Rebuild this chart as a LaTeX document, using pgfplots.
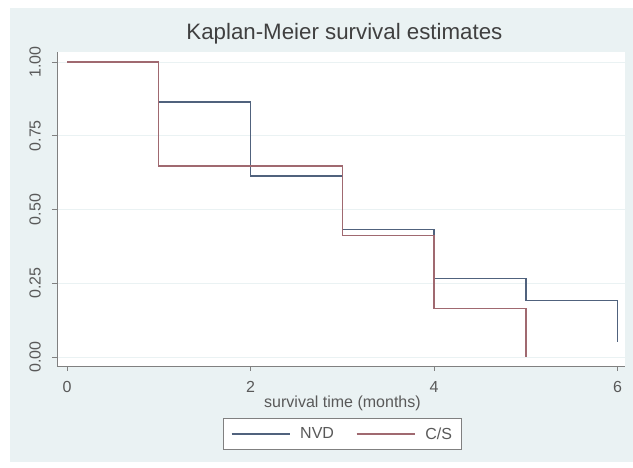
\documentclass[border=0pt]{standalone}
\usepackage{pgfplots}
\pgfplotsset{compat=1.18}
\usepackage{fontspec}
\setmainfont{Liberation Sans}
\definecolor{bg}{RGB}{234,242,243}
\definecolor{stnavy}{RGB}{80,98,125}
\definecolor{stmaroon}{RGB}{160,105,112}
\definecolor{axgray}{RGB}{128,128,128}
\begin{document}
\begin{tikzpicture}[x=1pt,y=1pt]
\fill[white] (0,0) rectangle (633,468);
\fill[bg] (10,6) rectangle (633,460);
\begin{axis}[
  at={(57pt,102pt)}, anchor=south west,
  scale only axis, width=568pt, height=314pt,
  xmin=-0.109, xmax=6.08, ymin=-0.0305, ymax=1.034,
  axis x line*=bottom, axis y line*=left,
  axis line style={-, axgray, line width=0.9pt},
  axis background/.style={fill=white},
  tick align=outside, major tick length=5pt,
  tick style={axgray, line width=0.9pt},
  xtick={0,2,4,6}, xticklabels={0,2,4,6},
  ytick={0,0.25,0.5,0.75,1}, yticklabels={0.00,0.25,0.50,0.75,1.00},
  ymajorgrids, grid style={bg, line width=0.9pt},
  ticklabel style={font=\fontsize{16}{16}\selectfont, text=black!65},
  xticklabel style={anchor=north, inner sep=0pt, yshift=-10pt},
  yticklabel style={rotate=90, anchor=south, inner sep=0pt, yshift=11pt},
  title={Kaplan-Meier survival estimates},
  title style={at={(axis description cs:0.506,1.022)}, anchor=base, font=\fontsize{22.3}{22.3}\selectfont, text=black!75},
  xlabel={survival time (months)},
  xlabel style={at={(axis description cs:0.5026,-0.1306)}, anchor=base, font=\fontsize{16}{16}\selectfont, text=black!65},
  legend columns=2,
  legend style={at={(axis description cs:0.5026,-0.2166)}, anchor=center,
    draw=axgray, line width=0.9pt, fill=white, font=\fontsize{16}{16}\selectfont, text=black!65,
    inner xsep=7pt, inner ysep=7pt,
    /tikz/every odd column/.append style={column sep=8pt},
    /tikz/every even column/.append style={column sep=20pt}},
  legend image code/.code={\draw[#1, line width=1.3pt] (0pt,0pt) -- (58pt,0pt);},
]
\addplot[const plot, stnavy, line width=1.3pt] coordinates {
  (0,1) (1,0.864) (2,0.614) (3,0.432) (4,0.267) (5,0.191) (6,0.052)};
\addlegendentry{NVD}
\addplot[const plot, stmaroon, line width=1.3pt] coordinates {
  (0,1) (1,0.647) (3,0.412) (4,0.165) (5,0)};
\addlegendentry{C/S}
\end{axis}
\end{tikzpicture}
\end{document}
